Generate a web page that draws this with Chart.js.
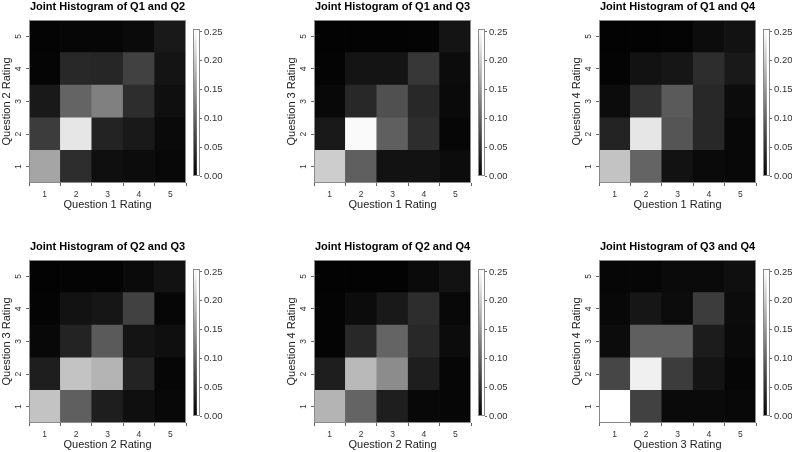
<!DOCTYPE html>
<html>
<head>
<meta charset="utf-8">
<script src="https://cdn.jsdelivr.net/npm/chart.js@4.4.1/dist/chart.umd.min.js"></script>
<style>
  html, body { margin: 0; padding: 0; background: #fff; }
  #wrap { position: relative; width: 792px; height: 452px; overflow: hidden; background: #fff; }
  #wrap canvas { position: absolute; }
</style>
</head>
<body>
<div id="wrap"></div>
<script>
// ---- data ----
const ratingLabels = ['1', '2', '3', '4', '5'];
const ratingValues = [1, 2, 3, 4, 5];
const colorbarTicks = [0.00, 0.05, 0.10, 0.15, 0.20, 0.25];
const colorbarMin = 0;
const colorbarMax = 0.255;

const titles = [
  'Joint Histogram of Q1 and Q2', 'Joint Histogram of Q1 and Q3', 'Joint Histogram of Q1 and Q4',
  'Joint Histogram of Q2 and Q3', 'Joint Histogram of Q2 and Q4', 'Joint Histogram of Q3 and Q4'
];
const xTitles = ['Question 1 Rating', 'Question 1 Rating', 'Question 1 Rating',
                 'Question 2 Rating', 'Question 2 Rating', 'Question 3 Rating'];
const yTitles = ['Question 2 Rating', 'Question 3 Rating', 'Question 4 Rating',
                 'Question 3 Rating', 'Question 4 Rating', 'Question 4 Rating'];

// rows: y rating 1..5 ; columns: x rating 1..5 (proportions)
const histQ1Q2 = [
  [0.165, 0.045, 0.015, 0.012, 0.008],
  [0.060, 0.230, 0.035, 0.025, 0.010],
  [0.025, 0.100, 0.128, 0.045, 0.015],
  [0.005, 0.040, 0.038, 0.065, 0.020],
  [0.004, 0.006, 0.006, 0.010, 0.025]
];
const histQ1Q3 = [
  [0.205, 0.095, 0.018, 0.018, 0.012],
  [0.025, 0.250, 0.095, 0.045, 0.006],
  [0.008, 0.040, 0.080, 0.040, 0.010],
  [0.004, 0.020, 0.020, 0.055, 0.012],
  [0.003, 0.003, 0.003, 0.004, 0.020]
];
const histQ1Q4 = [
  [0.195, 0.100, 0.018, 0.010, 0.008],
  [0.035, 0.230, 0.085, 0.040, 0.008],
  [0.012, 0.050, 0.090, 0.040, 0.012],
  [0.004, 0.018, 0.022, 0.045, 0.025],
  [0.003, 0.003, 0.004, 0.012, 0.018]
];
const histQ2Q3 = [
  [0.195, 0.095, 0.030, 0.015, 0.008],
  [0.030, 0.195, 0.180, 0.035, 0.006],
  [0.008, 0.035, 0.090, 0.020, 0.015],
  [0.004, 0.018, 0.022, 0.065, 0.006],
  [0.003, 0.004, 0.004, 0.010, 0.018]
];
const histQ2Q4 = [
  [0.180, 0.100, 0.030, 0.008, 0.006],
  [0.030, 0.185, 0.140, 0.030, 0.006],
  [0.004, 0.040, 0.100, 0.040, 0.012],
  [0.004, 0.012, 0.025, 0.045, 0.008],
  [0.003, 0.003, 0.003, 0.010, 0.018]
];
const histQ3Q4 = [
  [0.255, 0.065, 0.010, 0.010, 0.008],
  [0.070, 0.240, 0.060, 0.020, 0.006],
  [0.012, 0.095, 0.095, 0.028, 0.010],
  [0.008, 0.022, 0.012, 0.060, 0.012],
  [0.006, 0.006, 0.010, 0.010, 0.015]
];
const matrices = [histQ1Q2, histQ1Q3, histQ1Q4, histQ2Q3, histQ2Q4, histQ3Q4];

// ---- rendering ----
const FONT = '"Liberation Sans", Arial, Helvetica, sans-serif';
const panelX = [0, 285, 570];
const panelY = [0, 240];

function grayFor(v) {
  const g = Math.round(Math.max(0, Math.min(1, v / colorbarMax)) * 255);
  return 'rgb(' + g + ',' + g + ',' + g + ')';
}

const frame = {
  id: 'frame',
  afterDatasetsDraw(chart) {
    const a = chart.chartArea, ctx = chart.ctx;
    ctx.save();
    ctx.strokeStyle = '#8a8a8a';
    ctx.lineWidth = 1;
    const l = Math.round(a.left) + 0.5, t = Math.round(a.top) + 0.5;
    const r = Math.round(a.right) - 0.5, b = Math.round(a.bottom) - 0.5;
    ctx.strokeRect(l, t, r - l, b - t);
    ctx.restore();
  }
};

const rotatedY = {
  id: 'rotatedY',
  afterDraw(chart) {
    const s = chart.scales.y, ctx = chart.ctx;
    ctx.save();
    ctx.fillStyle = '#333';
    ctx.font = '8.5px ' + FONT;
    ctx.textAlign = 'center';
    ctx.textBaseline = 'middle';
    ratingValues.forEach((v, i) => {
      const y = s.getPixelForValue(v);
      ctx.save();
      ctx.translate(s.right - 10.5, y);
      ctx.rotate(-Math.PI / 2);
      ctx.fillText(ratingLabels[i], 0, 0);
      ctx.restore();
    });
    ctx.restore();
  }
};

function addCanvas(left, top, w, h) {
  const c = document.createElement('canvas');
  c.width = w; c.height = h;
  c.style.left = left + 'px'; c.style.top = top + 'px';
  c.style.width = w + 'px'; c.style.height = h + 'px';
  document.getElementById('wrap').appendChild(c);
  return c;
}

matrices.forEach((m, i) => {
  const ox = panelX[i % 3], oy = panelY[Math.floor(i / 3)];
  const c = addCanvas(ox, oy, 190, 212);
  new Chart(c, {
    type: 'bar',
    data: {
      labels: ratingLabels,
      datasets: m.map((row, r) => ({
        data: row.map(() => [ratingValues[r] - 0.5, ratingValues[r] + 0.5]),
        backgroundColor: row.map(grayFor),
        borderWidth: 0,
        grouped: false,
        barPercentage: 1,
        categoryPercentage: 1
      }))
    },
    options: {
      responsive: false,
      animation: false,
      devicePixelRatio: 1,
      layout: { padding: { left: 0, right: 4, top: 0, bottom: 0 } },
      plugins: {
        legend: { display: false },
        tooltip: { enabled: false },
        title: {
          display: true, text: titles[i], fullSize: false, color: '#000',
          font: { family: FONT, size: 11, weight: 'bold', lineHeight: 1.2 },
          padding: { top: 0, bottom: 6.8 }
        }
      },
      scales: {
        x: {
          type: 'category', offset: true,
          grid: { display: true, drawOnChartArea: false, drawTicks: true, tickLength: 3, color: '#666' },
          border: { display: false },
          ticks: { font: { family: FONT, size: 8.5 }, color: '#333', padding: 4, maxRotation: 0, autoSkip: false },
          title: { display: true, text: xTitles[i], color: '#222', font: { family: FONT, size: 11, lineHeight: 1.2 }, padding: 0 },
          afterFit: s => { s.height = 29; }
        },
        y: {
          type: 'linear', min: 0.5, max: 5.5,
          afterBuildTicks: s => { s.ticks = ratingValues.map(v => ({ value: v })); },
          ticks: { display: false },
          grid: { display: true, drawOnChartArea: false, drawTicks: true, tickLength: 3, color: '#666' },
          border: { display: false },
          title: { display: true, text: yTitles[i], color: '#222', font: { family: FONT, size: 11, lineHeight: 1.2 }, padding: 0 },
          afterFit: s => { s.width = 29; }
        }
      }
    },
    plugins: [frame, rotatedY]
  });

  // colour bar
  const cb = addCanvas(ox + 193, oy + 20, 70, 165);
  new Chart(cb, {
    type: 'bar',
    data: {
      labels: [''],
      datasets: [{
        data: [[colorbarMin, colorbarMax]],
        backgroundColor: (ctx) => {
          const a = ctx.chart.chartArea;
          if (!a) return '#000';
          const g = ctx.chart.ctx.createLinearGradient(0, a.bottom, 0, a.top);
          g.addColorStop(0, '#000');
          g.addColorStop(1, '#fff');
          return g;
        },
        borderWidth: 0,
        barPercentage: 1,
        categoryPercentage: 1
      }]
    },
    options: {
      responsive: false,
      animation: false,
      devicePixelRatio: 1,
      layout: { padding: { left: 0, right: 0, top: 9, bottom: 9 } },
      plugins: { legend: { display: false }, tooltip: { enabled: false } },
      scales: {
        x: { display: false, offset: false },
        y: {
          position: 'right', min: colorbarMin, max: colorbarMax,
          afterBuildTicks: s => { s.ticks = colorbarTicks.map(v => ({ value: v })); },
          ticks: { callback: v => Number(v).toFixed(2), font: { family: FONT, size: 9.5 }, color: '#333', padding: 2 },
          grid: { display: true, drawOnChartArea: false, drawTicks: true, tickLength: 2, color: '#666' },
          border: { display: false },
          afterFit: s => { s.width = 63; }
        }
      }
    },
    plugins: [frame]
  });
});
</script>
</body>
</html>
